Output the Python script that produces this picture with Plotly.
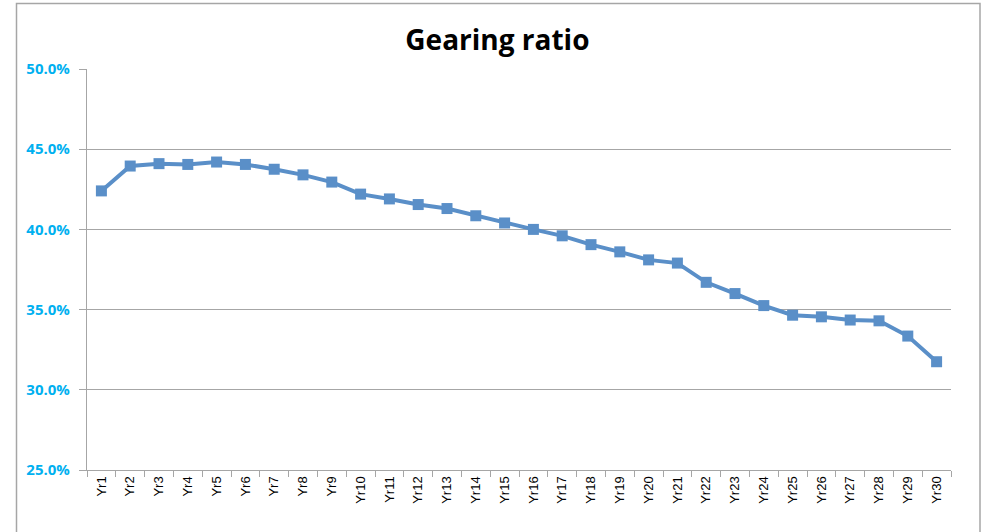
import plotly.graph_objects as go

years = [f"Yr{i}" for i in range(1, 31)]
gearing = [42.4, 43.95, 44.1, 44.05, 44.2, 44.05, 43.75, 43.4, 42.95, 42.2,
           41.9, 41.55, 41.3, 40.85, 40.4, 40.0, 39.6, 39.05, 38.6, 38.1,
           37.9, 36.7, 36.0, 35.25, 34.65, 34.55, 34.35, 34.3, 33.35, 31.75]
y_ticks = [25, 30, 35, 40, 45, 50]
y_tick_labels = ["25.0%", "30.0%", "35.0%", "40.0%", "45.0%", "50.0%"]
title_text = "Gearing ratio"

fig = go.Figure()
fig.add_trace(go.Scatter(
    x=years, y=gearing, mode="lines+markers",
    line=dict(color="#5A8FC8", width=4),
    marker=dict(symbol="square", size=11, color="#5A8FC8"),
    showlegend=False,
))

fig.update_layout(
    width=985, height=532,
    margin=dict(l=87, r=34, t=69, b=62),
    paper_bgcolor="white", plot_bgcolor="white",
    title=dict(text=f"<b>{title_text}</b>", x=0.505, xref="container", xanchor="center",
               y=0.925, yref="container", yanchor="middle",
               font=dict(family="Open Sans, Liberation Sans, sans-serif", size=28, color="black")),
    xaxis=dict(
        type="category", tickangle=-90, tickson="boundaries",
        ticks="outside", ticklen=6, tickcolor="#A6A6A6",
        showline=True, linecolor="#A6A6A6", linewidth=1.3,
        showgrid=False,
        tickfont=dict(family="Liberation Sans, sans-serif", size=13, color="black"),
        range=[-0.5, 29.5],
    ),
    yaxis=dict(
        range=[25, 50], tickvals=y_ticks, ticktext=y_tick_labels,
        ticks="outside", ticklen=7, tickcolor="#A6A6A6",
        ticklabelstandoff=6,
        showline=True, linecolor="#A6A6A6", linewidth=1.3,
        showgrid=True, gridcolor="#A6A6A6", gridwidth=1.3,
        zeroline=False,
        tickfont=dict(family="Open Sans, Liberation Sans, sans-serif", size=15, color="#00B0F0", weight="bold"),
    ),
    shapes=[dict(type="rect", xref="paper", yref="paper",
                 x0=(16.5 - 87) / 864, x1=(980 - 87) / 864,
                 y0=-0.2, y1=(470 - 3.5) / 401,
                 line=dict(color="#A6A6A6", width=1.5), fillcolor="rgba(0,0,0,0)", layer="below")],
)

fig.write_html("out.html", config={"displayModeBar": False},
               post_script="document.body.style.margin='0';")
